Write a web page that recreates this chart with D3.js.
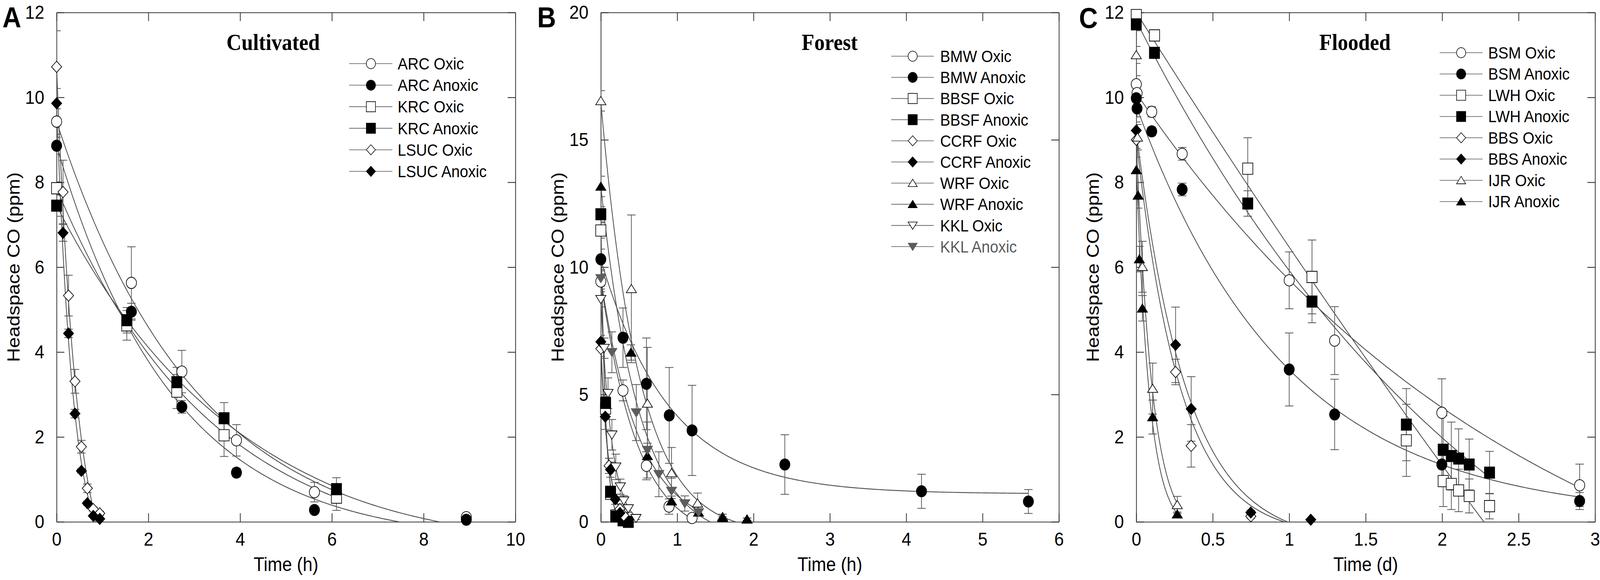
<!DOCTYPE html>
<html>
<head>
<meta charset="utf-8">
<script src="https://cdn.jsdelivr.net/npm/d3@7"></script>
<style>
html,body{margin:0;padding:0;background:#fff;overflow:hidden}
#chart{display:block;width:100vw;height:100vh}
svg text{font-family:"Liberation Sans",Arial,sans-serif}
</style>
</head>
<body>
<svg id="chart"></svg>
<script>
var screen = {width:4551, height:1486}
var plotTop = 32, plotBottom = 1337

// ---- panel A : cultivated (hours)
var cultivatedNames = ["ARC Oxic","ARC Anoxic","KRC Oxic","KRC Anoxic","LSUC Oxic","LSUC Anoxic"]
var cultivatedTime = [
    [0,1.63,2.73,3.92,5.62,8.93],
    [0,1.63,2.73,3.92,5.62,8.93],
    [0,1.53,2.62,3.65,6.1],
    [0,1.53,2.62,3.65,6.1],
    [0,0.14,0.26,0.40,0.54,0.67,0.80,0.94],
    [0,0.14,0.26,0.40,0.54,0.67,0.80,0.94]]
var cultivatedCO = [
    [9.43,5.63,3.54,1.92,0.70,0.11],
    [8.86,4.95,2.71,1.16,0.28,0.05],
    [7.86,4.63,3.07,2.04,0.57],
    [7.45,4.75,3.29,2.44,0.77],
    [10.72,7.77,5.33,3.31,1.77,0.79,0.30,0.20],
    [9.86,6.81,4.44,2.55,1.20,0.44,0.14,0.07]]
var cultivatedErr = [
    [0.3,0.85,0.5,0.37,0.23,0.05],
    [0.2,0.2,0.15,0.1,0.08,0.03],
    [0.15,0.35,0.4,0.5,0.3],
    [0.25,0.3,0.35,0.37,0.27],
    [0.85,0.75,0.48,0.28,0.15,0.1,0.05,0.05],
    [0.35,0.2,0.1,0.1,0.05,0.05,0.03,0.03]]
// fitted decay  y = c + a*exp(-k t), drawn up to tEnd : [a,k,c,tEnd]
var cultivatedFit = [
    [10.09,0.327,-0.66,8.93],
    [9.37,0.39,-0.51,8.93],
    [8.70,0.298,-0.84,6.1],
    [8.49,0.25,-1.04,6.1],
    [12.47,2.25,-1.75,0.94],
    [10.91,2.77,-1.05,0.94]]
var cultivatedXTicks = [0,2,4,6,8,10]
var cultivatedYTicks = [0,2,4,6,8,10,12]

// ---- panel B : forest (hours)
var forestNames = ["BMW Oxic","BMW Anoxic","BBSF Oxic","BBSF Anoxic","CCRF Oxic","CCRF Anoxic","WRF Oxic","WRF Anoxic","KKL Oxic","KKL Anoxic"]
var forestTime = [
    [0,0.29,0.597,0.893,1.195],
    [0,0.29,0.597,0.896,1.195,2.41,4.2,5.6],
    [0,0.062,0.127,0.196,0.29],
    [0,0.062,0.127,0.196,0.29,0.36],
    [0,0.108,0.25,0.30],
    [0,0.058,0.127,0.19,0.25],
    [0,0.40,0.61,0.926,1.267,1.595,1.915],
    [0,0.395,0.61,0.926,1.28,1.595,1.915],
    [0,0.045,0.094,0.145,0.196,0.255,0.30,0.36,0.46],
    [0,0.145,0.464,0.61,0.76,0.926,1.1,1.28]]
var forestCO = [
    [9.44,5.16,2.2,0.6,0.15],
    [10.31,7.23,5.42,4.18,3.59,2.25,1.2,0.8],
    [11.44,4.45,1.1,0.25,0.08],
    [12.08,4.67,1.18,0.21,0.06,0.0],
    [6.8,2.2,0.5,0.25],
    [7.07,4.13,2.05,0.89,0.35],
    [16.53,9.15,4.65,1.92,0.73,0.2,0.1],
    [13.17,6.65,2.59,0.81,0.37,0.15,0.1],
    [8.74,6.82,5.05,3.42,2.16,1.38,0.83,0.52,0.14],
    [9.56,6.66,4.29,2.82,1.87,1.21,0.72,0.37]]
var forestErr = [
    [0.3,0.41,0.55,0.3,0.1],
    [0.4,1.17,1.8,1.88,1.77,1.17,0.67,0.47],
    [0.3,0.3,0.2,0.1,0.05],
    [0.3,0.25,0.2,0.1,0.05,0.02],
    [0.3,0.3,0.2,0.1],
    [0.25,0.5,0.3,0.2,0.1],
    [0.4,2.9,2.2,1.0,0.4,0.1,0.05],
    [0.4,0.3,0.5,0.2,0.1,0.05,0.05],
    [0.3,0.4,0.6,0.6,0.5,0.3,0.2,0.15,0.05],
    [0.3,0.8,1.1,1.1,0.88,0.5,0.3,0.1]]
var forestFit = [
    [10.2,2.06,-0.76,1.195],
    [9.2,1.1,1.1,5.6],
    [11.54,16,-0.1,0.29],
    [12.18,16.5,-0.1,0.36],
    [6.85,10,-0.05,0.3],
    [7.17,10,-0.1,0.25],
    [17.0,2.0,-0.5,1.915],
    [13.97,2.0,-0.8,1.915],
    [8.94,6.8,-0.2,0.46],
    [9.86,2.0,-0.3,1.28]]
var forestXTicks = [0,1,2,3,4,5,6]
var forestYTicks = [0,5,10,15,20]

// ---- panel C : flooded (days)
var floodedNames = ["BSM Oxic","BSM Anoxic","LWH Oxic","LWH Anoxic","BBS Oxic","BBS Anoxic","IJR Oxic","IJR Anoxic"]
var floodedTime = [
    [0,0.005,0.101,0.30,1.0,1.297,1.998,2.899],
    [0,0.005,0.101,0.30,1.0,1.297,1.998,2.899],
    [0,0.119,0.729,1.149,1.766,2.007,2.06,2.108,2.177,2.31],
    [0,0.119,0.729,1.149,1.766,2.007,2.06,2.108,2.177,2.31],
    [0,0.257,0.359,0.749],
    [0,0.257,0.359,0.749,1.141],
    [0,0.008,0.04,0.107,0.268],
    [0,0.012,0.02,0.04,0.107,0.268]]
var floodedCO = [
    [10.31,10.1,9.66,8.67,5.69,4.27,2.57,0.86],
    [9.98,9.74,9.2,7.83,3.59,2.53,1.35,0.49],
    [11.94,11.46,8.32,5.77,1.92,0.96,0.89,0.74,0.61,0.37],
    [11.72,11.05,7.5,5.19,2.29,1.70,1.55,1.49,1.35,1.16],
    [9.0,3.53,1.79,0.13],
    [9.22,4.17,2.66,0.22,0.05],
    [11.0,9.06,6.01,3.14,0.40],
    [8.29,7.69,6.19,5.03,2.47,0.18]]
var floodedErr = [
    [0.2,0.2,0.12,0.15,0.67,0.8,0.8,0.5],
    [0.2,0.2,0.1,0.15,0.86,0.83,0.3,0.2],
    [0.1,0.12,0.73,0.87,0.85,0.6,0.6,0.5,0.4,0.3],
    [0.15,0.1,0.3,0.5,0.85,0.8,0.8,0.7,0.6,0.5],
    [0.2,0.3,0.5,0.05],
    [0.2,0.89,0.76,0.05,0.02],
    [0.2,0.3,0.6,0.6,0.2],
    [0.3,0.3,0.3,0.3,0.4,0.05]]
var floodedFit = [
    [13.92,0.38,-3.82,2.899],
    [9.72,1.02,0.08,2.899],
    [78,0.0735,-66,2.31],
    [17.8,0.401,-6.0,2.31],
    [9.35,3.4,-0.35,1.141],
    [9.7,3.0,-0.5,1.141],
    [9.3,9.5,-0.3,0.268],
    [8.6,11.5,-0.2,0.268]]
var floodedXTicks = [0,0.5,1,1.5,2,2.5,3]
var floodedYTicks = [0,2,4,6,8,10,12]

var panels = [
    {label:"A", title:"Cultivated", xTitle:"Time (h)", names:cultivatedNames, time:cultivatedTime, co:cultivatedCO, err:cultivatedErr, fit:cultivatedFit, xTicks:cultivatedXTicks, yTicks:cultivatedYTicks,
     left:161, right:1466, labelX:7, labelY:70, titleX:777, legLine:[993,1116], legMark:1055, legText:1131, legTop:163, legStep:55.2},
    {label:"B", title:"Forest", xTitle:"Time (h)", names:forestNames, time:forestTime, co:forestCO, err:forestErr, fit:forestFit, xTicks:forestXTicks, yTicks:forestYTicks,
     left:1709, right:3012, labelX:1528, labelY:70, titleX:2360, legLine:[2535,2656], legMark:2596, legText:2674, legTop:144, legStep:54.2},
    {label:"C", title:"Flooded", xTitle:"Time (d)", names:floodedNames, time:floodedTime, co:floodedCO, err:floodedErr, fit:floodedFit, xTicks:floodedXTicks, yTicks:floodedYTicks,
     left:3232, right:4537, labelX:3069, labelY:72, titleX:3854, legLine:[4095,4217], legMark:4156, legText:4233, legTop:135, legStep:54.5}
]

var shapes = ["circle","square","diamond","triangle","triangleDown"]

var markerPath = function(shape, s)
{
    var p = d3.path()
    if (shape == "circle") { p.moveTo(s,0); p.arc(0,0,s,0,2*Math.PI) }
    else if (shape == "square") { p.rect(-s,-s,2*s,2*s) }
    else if (shape == "diamond") { p.moveTo(0,-s); p.lineTo(s,0); p.lineTo(0,s); p.lineTo(-s,0); p.closePath() }
    else if (shape == "triangle") { p.moveTo(0,-s*0.78); p.lineTo(s,s*0.68); p.lineTo(-s,s*0.68); p.closePath() }
    else { p.moveTo(0,s*0.78); p.lineTo(s,-s*0.68); p.lineTo(-s,-s*0.68); p.closePath() }
    return p.toString()
}

var markerStyle = function(name, i)
{
    var gray = name == "KKL Anoxic"
    var filled = i % 2 == 1
    return {
        shape: shapes[Math.floor(i/2)],
        fill: filled ? (gray ? "#5c5c5c" : "#000") : "#fff",
        stroke: gray ? "#5c5c5c" : "#000",
        text: gray ? "#5c5c5c" : "#000"
    }
}

// the window may be narrower than the figure: stretch the figure to fill it
var svg = d3.select("#chart")
    .attr("viewBox","0 0 "+screen.width+" "+screen.height)
    .attr("preserveAspectRatio","none")

var drawPanel = function(panel, pi)
{
    var xScale = d3.scaleLinear()
        .domain([0, d3.max(panel.xTicks)])
        .range([panel.left, panel.right])
    var yScale = d3.scaleLinear()
        .domain([0, d3.max(panel.yTicks)])
        .range([plotBottom, plotTop])

    var g = svg.append("g").attr("id","panel"+panel.label)

    g.append("clipPath")
        .attr("id","clip"+pi)
        .append("rect")
        .attr("x",panel.left).attr("y",plotTop)
        .attr("width",panel.right-panel.left).attr("height",plotBottom-plotTop)

    //axes, ticks pointing inside on all four sides
    var styleAxis = function(a)
    {
        a.attr("font-size",49).attr("font-family","Liberation Sans, Arial, sans-serif").attr("color","#333")
        a.selectAll("path").attr("stroke-width",2.2)
        a.selectAll("line").attr("stroke-width",2.2)
        a.selectAll("text").attr("fill","#000")
    }
    g.append("g")
        .attr("transform","translate(0,"+plotBottom+")")
        .call(d3.axisBottom(xScale).tickValues(panel.xTicks).tickSizeInner(-22).tickSizeOuter(0).tickPadding(26).tickFormat(d3.format("")))
        .call(styleAxis)
    g.append("g")
        .attr("transform","translate("+panel.left+",0)")
        .call(d3.axisLeft(yScale).tickValues(panel.yTicks).tickSizeInner(-22).tickSizeOuter(0).tickPadding(35).tickFormat(d3.format("")))
        .call(styleAxis)
    g.append("g")
        .attr("transform","translate(0,"+plotTop+")")
        .call(d3.axisTop(xScale).tickValues(panel.xTicks).tickSizeInner(-22).tickSizeOuter(0).tickFormat(""))
        .call(styleAxis)
    g.append("g")
        .attr("transform","translate("+panel.right+",0)")
        .call(d3.axisRight(yScale).tickValues(panel.yTicks).tickSizeInner(-22).tickSizeOuter(0).tickFormat(""))
        .call(styleAxis)

    //fitted curves
    var line = d3.line().x(function(d){return xScale(d[0])}).y(function(d){return yScale(d[1])})
    var curves = g.append("g").attr("clip-path","url(#clip"+pi+")")
    panel.fit.forEach(function(f)
    {
        var a = f[0], k = f[1], c = f[2], end = f[3]
        if (c < 0) end = Math.min(end, Math.log(a/(-c))/k)
        var pts = d3.range(0,201).map(function(j)
        {
            var t = end*j/200
            return [t, Math.max(0, c + a*Math.exp(-k*t))]
        })
        curves.append("path")
            .attr("d",line(pts))
            .attr("fill","none")
            .attr("stroke","#4a4a4a")
            .attr("stroke-width",2.2)
    })

    //error bars
    var bars = g.append("g").attr("clip-path","url(#clip"+pi+")")
        .attr("stroke","#555").attr("stroke-width",2)
    panel.names.forEach(function(name, i)
    {
        panel.time[i].forEach(function(t, j)
        {
            var v = panel.co[i][j], e = panel.err[i][j]
            if (e <= 0) return
            var x = xScale(t)
            bars.append("line").attr("x1",x).attr("x2",x).attr("y1",yScale(v-e)).attr("y2",yScale(v+e))
            bars.append("line").attr("x1",x-12).attr("x2",x+12).attr("y1",yScale(v-e)).attr("y2",yScale(v-e))
            bars.append("line").attr("x1",x-12).attr("x2",x+12).attr("y1",yScale(v+e)).attr("y2",yScale(v+e))
        })
    })

    //markers
    panel.names.forEach(function(name, i)
    {
        var st = markerStyle(name, i)
        var pts = panel.time[i].map(function(t, j){return [t, panel.co[i][j]]})
        g.append("g")
            .selectAll("path")
            .data(pts)
            .enter()
            .append("path")
            .attr("d",markerPath(st.shape,14.5))
            .attr("transform",function(d){return "translate("+xScale(d[0])+","+yScale(d[1])+")"})
            .attr("fill",st.fill)
            .attr("stroke",st.stroke)
            .attr("stroke-width",1.8)
    })

    //legend
    var leg = g.append("g")
    panel.names.forEach(function(name, i)
    {
        var st = markerStyle(name, i)
        var y = panel.legTop + panel.legStep*i
        leg.append("line")
            .attr("x1",panel.legLine[0]).attr("x2",panel.legLine[1])
            .attr("y1",y).attr("y2",y)
            .attr("stroke","#555").attr("stroke-width",1.6)
        leg.append("path")
            .attr("d",markerPath(st.shape,13))
            .attr("transform","translate("+panel.legMark+","+y+")")
            .attr("fill",st.fill).attr("stroke",st.stroke).attr("stroke-width",1.6)
        leg.append("text")
            .attr("x",panel.legText).attr("y",y+15)
            .attr("font-size",43)
            .attr("fill",st.text)
            .text(name)
    })

    //texts
    g.append("text")
        .attr("x",panel.titleX).attr("y",128)
        .attr("text-anchor","middle")
        .style("font-family","'Liberation Serif','Times New Roman',serif")
        .attr("font-weight","bold")
        .attr("font-size",59)
        .text(panel.title)
    g.append("text")
        .attr("x",panel.labelX).attr("y",panel.labelY)
        .attr("font-weight","bold")
        .attr("font-size",74)
        .text(panel.label)
    g.append("text")
        .attr("x",(panel.left+panel.right)/2).attr("y",1463)
        .attr("text-anchor","middle")
        .attr("font-size",50)
        .text(panel.xTitle)
    g.append("text")
        .attr("transform","translate("+(panel.left-106)+","+((plotTop+plotBottom)/2)+") rotate(-90)")
        .attr("text-anchor","middle")
        .attr("font-size",50)
        .text("Headspace CO (ppm)")
}

panels.forEach(drawPanel)
</script>
</body>
</html>
